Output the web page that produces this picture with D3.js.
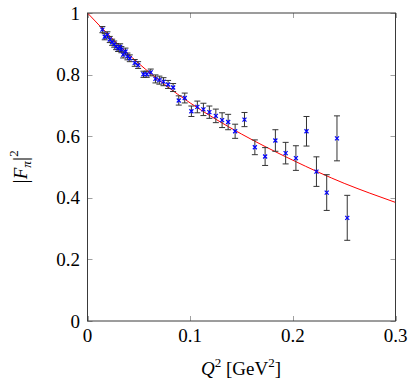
<!DOCTYPE html>
<html>
<head>
<meta charset="utf-8">
<script src="https://cdn.jsdelivr.net/npm/d3@7"></script>
<style>
  body { margin: 0; background: #fff; }
</style>
</head>
<body>
<div id="chart"></div>
<script>
// measured points: Q^2 [GeV^2], |F_pi|^2 and its error
const q2 = [0.0145, 0.0168, 0.0194, 0.0217, 0.024, 0.026, 0.0279, 0.0298, 0.0318, 0.033,
  0.0347, 0.037, 0.0389, 0.0412, 0.046, 0.0493, 0.0545, 0.0577, 0.0616, 0.0662,
  0.070, 0.074, 0.0785, 0.0834, 0.0889, 0.0947, 0.1012, 0.107, 0.1129, 0.1187,
  0.125, 0.1311, 0.137, 0.1438, 0.1529, 0.163, 0.173, 0.183, 0.193, 0.203,
  0.2133, 0.223, 0.233, 0.243, 0.253];
const ff = [0.946, 0.923, 0.929, 0.914, 0.905, 0.899, 0.891, 0.885, 0.890, 0.881,
  0.865, 0.875, 0.859, 0.853, 0.838, 0.831, 0.801, 0.801, 0.807, 0.786,
  0.782, 0.777, 0.768, 0.758, 0.716, 0.724, 0.681, 0.695, 0.687, 0.678,
  0.666, 0.652, 0.646, 0.616, 0.654, 0.564, 0.534, 0.586, 0.545, 0.529,
  0.616, 0.485, 0.417, 0.593, 0.335];
const err = [0.010, 0.010, 0.010, 0.010, 0.010, 0.010, 0.010, 0.010, 0.010, 0.010,
  0.011, 0.011, 0.011, 0.011, 0.011, 0.011, 0.010, 0.010, 0.011, 0.013,
  0.013, 0.013, 0.013, 0.013, 0.015, 0.016, 0.017, 0.019, 0.020, 0.020,
  0.022, 0.024, 0.025, 0.023, 0.023, 0.024, 0.029, 0.035, 0.035, 0.040,
  0.048, 0.048, 0.058, 0.073, 0.073];

// fit curve
const fitQ2 = [0, 0.025, 0.05, 0.075, 0.1, 0.125, 0.15, 0.175, 0.2, 0.225, 0.25, 0.275, 0.3];
const fitFF = [1.0, 0.914, 0.836, 0.768, 0.708, 0.655, 0.607, 0.563, 0.522, 0.483, 0.447, 0.415, 0.385];

const xTicks = [0, 0.1, 0.2, 0.3];
const yTicks = [0, 0.2, 0.4, 0.6, 0.8, 1];

const width = 415;
const height = 386;
const plot = { left: 87.5, right: 395.5, top: 13, bottom: 321 };
const serif = "'Liberation Serif', 'DejaVu Serif', 'Times New Roman', serif";

const svg = d3.select("#chart")
  .append("svg")
  .attr("width", width)
  .attr("height", height)
  .attr("font-family", serif)
  .style("font-family", serif);

const x = d3.scaleLinear().domain([0, 0.3]).range([plot.left, plot.right]);
const y = d3.scaleLinear().domain([0, 1]).range([plot.bottom, plot.top]);

const tickLen = 5;
const tickColor = "#a0a0a0";

// ticks, inward on all four sides
const tg = svg.append("g").attr("stroke", tickColor).attr("stroke-width", 1);
xTicks.forEach((t) => {
  const px = Math.round(x(t)) + 0.5;
  tg.append("line").attr("x1", px).attr("x2", px).attr("y1", plot.bottom).attr("y2", plot.bottom - tickLen);
  tg.append("line").attr("x1", px).attr("x2", px).attr("y1", plot.top).attr("y2", plot.top + tickLen);
});
yTicks.forEach((t) => {
  const py = Math.round(y(t)) + 0.5;
  tg.append("line").attr("x1", plot.left).attr("x2", plot.left + tickLen).attr("y1", py).attr("y2", py);
  tg.append("line").attr("x1", plot.right).attr("x2", plot.right - tickLen).attr("y1", py).attr("y2", py);
});

// tick labels
svg.append("g")
  .selectAll("text")
  .data(xTicks)
  .join("text")
  .attr("x", (d) => x(d))
  .attr("y", 342)
  .attr("text-anchor", "middle")
  .attr("font-size", 19)
  .text((d) => d3.format("~g")(d));

svg.append("g")
  .selectAll("text")
  .data(yTicks)
  .join("text")
  .attr("x", 80)
  .attr("y", (d) => y(d) + 6.5)
  .attr("text-anchor", "end")
  .attr("font-size", 19)
  .text((d) => d3.format("~g")(d));

svg.append("clipPath").attr("id", "clip")
  .append("rect")
  .attr("x", plot.left).attr("y", plot.top)
  .attr("width", plot.right - plot.left).attr("height", plot.bottom - plot.top);

// fit line
const fit = fitQ2.map((q, i) => [q, fitFF[i]]);
svg.append("path")
  .datum(fit)
  .attr("clip-path", "url(#clip)")
  .attr("fill", "none")
  .attr("stroke", "#ff0000")
  .attr("stroke-width", 1)
  .attr("d", d3.line().x((d) => x(d[0])).y((d) => y(d[1])).curve(d3.curveMonotoneX));

// error bars
const pts = q2.map((q, i) => ({ q, v: ff[i], e: err[i] }));
const cap = 3;
const eb = svg.append("g").attr("stroke", "#333").attr("stroke-width", 1).attr("fill", "none");
pts.forEach((d) => {
  const px = x(d.q);
  eb.append("line").attr("x1", px).attr("x2", px).attr("y1", y(d.v - d.e)).attr("y2", y(d.v + d.e));
  eb.append("line").attr("x1", px - cap).attr("x2", px + cap).attr("y1", y(d.v - d.e)).attr("y2", y(d.v - d.e));
  eb.append("line").attr("x1", px - cap).attr("x2", px + cap).attr("y1", y(d.v + d.e)).attr("y2", y(d.v + d.e));
});

// x markers
const m = 2;
svg.append("g")
  .selectAll("path")
  .data(pts)
  .join("path")
  .attr("fill", "none")
  .attr("stroke", "#0000ff")
  .attr("stroke-width", 1.2)
  .attr("d", (d) => {
    const px = x(d.q), py = y(d.v);
    return `M${px - m},${py - m}L${px + m},${py + m}M${px - m},${py + m}L${px + m},${py - m}`;
  });

// frame
svg.append("rect")
  .attr("x", plot.left).attr("y", plot.top)
  .attr("width", plot.right - plot.left).attr("height", plot.bottom - plot.top)
  .attr("fill", "none")
  .attr("stroke", "#3a3a3a")
  .attr("stroke-width", 1);

// axis labels
const xl = svg.append("text")
  .attr("x", 241)
  .attr("y", 375)
  .attr("text-anchor", "middle")
  .attr("font-size", 19);
xl.append("tspan").attr("font-style", "italic").text("Q");
xl.append("tspan").attr("font-size", 13).attr("dy", -8).text("2");
xl.append("tspan").attr("dy", 8).text(" [GeV");
xl.append("tspan").attr("font-size", 13).attr("dy", -8).text("2");
xl.append("tspan").attr("dy", 8).text("]");

const yl = svg.append("text")
  .attr("transform", "translate(27,167) rotate(-90)")
  .attr("text-anchor", "middle")
  .attr("font-size", 19);
yl.append("tspan").attr("font-size", 22).text("|");
yl.append("tspan").attr("font-style", "italic").text("F");
yl.append("tspan").attr("font-style", "italic").attr("font-size", 13).attr("dy", 4).text("π");
yl.append("tspan").attr("font-size", 22).attr("dy", -4).text("|");
yl.append("tspan").attr("font-size", 13).attr("dy", -9).text("2");
</script>
</body>
</html>
